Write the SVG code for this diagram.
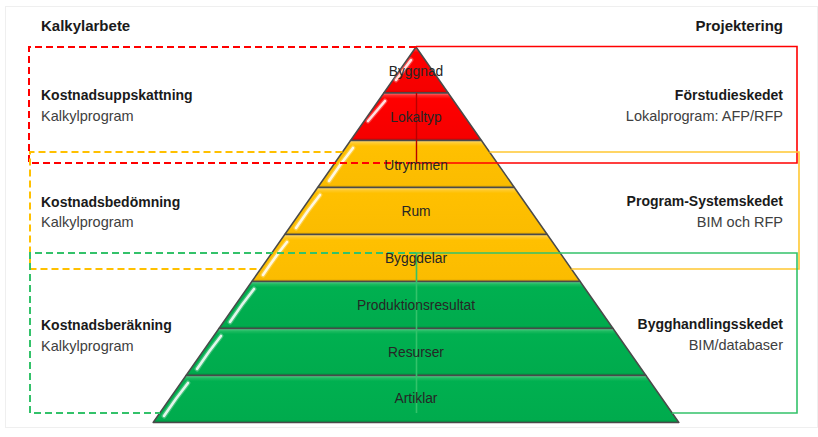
<svg xmlns="http://www.w3.org/2000/svg" width="818" height="437" viewBox="0 0 818 437">
  <style>
    .band { stroke: #4a4a4a; stroke-width: 1.5; stroke-linejoin: round; }
    .hl { fill: none; stroke: #ffffff; stroke-width: 2.6; stroke-linecap: round; opacity: 0.85; }
    .hlg { fill: none; stroke: #ffffff; stroke-width: 5; stroke-linecap: round; opacity: 0.25; }
    .bt { font-family: "Liberation Sans", Arial, sans-serif; font-size: 13.8px; fill: #262626; text-anchor: middle; dominant-baseline: central; }
    .hd { font-family: "Liberation Sans", Arial, sans-serif; font-size: 15px; font-weight: bold; fill: #1a1a1a; }
    .t1 { font-family: "Liberation Sans", Arial, sans-serif; font-size: 14px; font-weight: bold; fill: #1a1a1a; }
    .t2 { font-family: "Liberation Sans", Arial, sans-serif; font-size: 14.5px; fill: #404040; }
    .r { text-anchor: end; }
    .dash { fill: none; stroke-width: 2; stroke-dasharray: 7 4; }
    .solid { fill: none; stroke-width: 1.6; }
  </style>
  <defs>
    <linearGradient id="gRed" x1="0" y1="0" x2="0" y2="1">
      <stop offset="0" stop-color="#ff8080"/>
      <stop offset="0.05" stop-color="#ff2a2a"/>
      <stop offset="0.12" stop-color="#ff0000"/>
      <stop offset="0.94" stop-color="#f50000"/>
      <stop offset="1" stop-color="#c80000"/>
    </linearGradient>
    <linearGradient id="gYel" x1="0" y1="0" x2="0" y2="1">
      <stop offset="0" stop-color="#ffe08a"/>
      <stop offset="0.05" stop-color="#ffcb2e"/>
      <stop offset="0.12" stop-color="#ffc000"/>
      <stop offset="0.94" stop-color="#fbbc00"/>
      <stop offset="1" stop-color="#d9a200"/>
    </linearGradient>
    <linearGradient id="gGrn" x1="0" y1="0" x2="0" y2="1">
      <stop offset="0" stop-color="#70d8a0"/>
      <stop offset="0.05" stop-color="#20bc62"/>
      <stop offset="0.12" stop-color="#00b050"/>
      <stop offset="0.94" stop-color="#00ab4d"/>
      <stop offset="1" stop-color="#008a3e"/>
    </linearGradient>
  </defs>

  <rect x="5.5" y="6.5" width="812" height="421" fill="#ffffff" stroke="#efefef" stroke-width="1"/>

  <!-- pyramid bands -->
  <g id="band-byggnad">
    <polygon class="band" fill="url(#gRed)" points="416,47 448.2,93 383.8,93"/>
    <path class="hlg" d="M411,60 L396,80"/><path class="hl" d="M411,60 L396,80"/>
  </g>
  <g id="band-lokaltyp">
    <polygon class="band" fill="url(#gRed)" points="383.8,93 448.2,93 481.45,140.5 350.55,140.5"/>
    <path class="hlg" d="M385,101 L368,121"/><path class="hl" d="M385,101 L368,121"/>
  </g>
  <g id="band-utrymmen">
    <polygon class="band" fill="url(#gYel)" points="350.55,140.5 481.45,140.5 514.35,187.5 317.65,187.5"/>
    <path class="hlg" d="M353,148 Q341,163 329,181"/><path class="hl" d="M353,148 Q341,163 329,181"/>
  </g>
  <g id="band-rum">
    <polygon class="band" fill="url(#gYel)" points="317.65,187.5 514.35,187.5 547.25,234.5 284.75,234.5"/>
    <path class="hlg" d="M320,195 Q308,210 296,228"/><path class="hl" d="M320,195 Q308,210 296,228"/>
  </g>
  <g id="band-byggdelar">
    <polygon class="band" fill="url(#gYel)" points="284.75,234.5 547.25,234.5 580.15,281.5 251.85,281.5"/>
    <path class="hlg" d="M287,242 Q275,257 263,275"/><path class="hl" d="M287,242 Q275,257 263,275"/>
  </g>
  <g id="band-produktionsresultat">
    <polygon class="band" fill="url(#gGrn)" points="251.85,281.5 580.15,281.5 613.05,328.5 218.95,328.5"/>
    <path class="hlg" d="M254,289 Q242,304 230,322"/><path class="hl" d="M254,289 Q242,304 230,322"/>
  </g>
  <g id="band-resurser">
    <polygon class="band" fill="url(#gGrn)" points="218.95,328.5 613.05,328.5 645.95,375.5 186.05,375.5"/>
    <path class="hlg" d="M221,336 Q209,351 197,369"/><path class="hl" d="M221,336 Q209,351 197,369"/>
  </g>
  <g id="band-artiklar">
    <polygon class="band" fill="url(#gGrn)" points="186.05,375.5 645.95,375.5 678.85,422.5 153.15,422.5"/>
    <path class="hlg" d="M188,383 Q176,398 164,416"/><path class="hl" d="M188,383 Q176,398 164,416"/>
  </g>

  <!-- phase frames -->
  <g id="connectors">
    <path class="dash" stroke="#ff0000" d="M416,47 H29 V163 H416"/>
    <path class="solid" stroke="#ff0000" d="M416,46.5 H797 V163 H416"/>
    <line x1="416.5" y1="93" x2="416.5" y2="163" stroke="#b80000" stroke-width="1.4"/>
    <path class="dash" stroke="#ffc000" d="M342.5,152 H30 V269 H260.6"/>
    <path class="solid" stroke="#ffc832" d="M489.5,152 H799 V269 H571.4"/>
    <path class="dash" stroke="#33c26a" d="M416,253 H30 V413 H160"/>
    <path class="solid" stroke="#33c26a" d="M416.5,413 V253 H797 V413 H672"/>
  </g>

  <!-- band labels -->
  <g id="band-labels">
    <text class="bt" x="416" y="71">Byggnad</text>
    <text class="bt" x="416" y="117">Lokaltyp</text>
    <text class="bt" x="416" y="165">Utrymmen</text>
    <text class="bt" x="416" y="211">Rum</text>
    <text class="bt" x="416" y="258">Byggdelar</text>
    <text class="bt" x="416" y="305">Produktionsresultat</text>
    <text class="bt" x="416" y="352">Resurser</text>
    <text class="bt" x="416" y="398">Artiklar</text>
  </g>

  <!-- side labels -->
  <g id="label-kalkylarbete"><text class="hd" x="41" y="30.5">Kalkylarbete</text></g>
  <g id="label-projektering"><text class="hd r" x="783" y="30.5">Projektering</text></g>
  <g id="label-kostnadsuppskattning">
    <text class="t1" x="41" y="100">Kostnadsuppskattning</text>
    <text class="t2" x="41" y="121">Kalkylprogram</text>
  </g>
  <g id="label-kostnadsbedomning">
    <text class="t1" x="41" y="206.5">Kostnadsbedömning</text>
    <text class="t2" x="41" y="227">Kalkylprogram</text>
  </g>
  <g id="label-kostnadsberakning">
    <text class="t1" x="41" y="330">Kostnadsberäkning</text>
    <text class="t2" x="41" y="350.5">Kalkylprogram</text>
  </g>
  <g id="label-forstudieskedet">
    <text class="t1 r" x="783" y="100">Förstudieskedet</text>
    <text class="t2 r" x="783" y="121">Lokalprogram: AFP/RFP</text>
  </g>
  <g id="label-program-systemskedet">
    <text class="t1 r" x="783" y="206">Program-Systemskedet</text>
    <text class="t2 r" x="783" y="226.5">BIM och RFP</text>
  </g>
  <g id="label-bygghandlingsskedet">
    <text class="t1 r" x="783" y="329">Bygghandlingsskedet</text>
    <text class="t2 r" x="783" y="349.5">BIM/databaser</text>
  </g>
</svg>
